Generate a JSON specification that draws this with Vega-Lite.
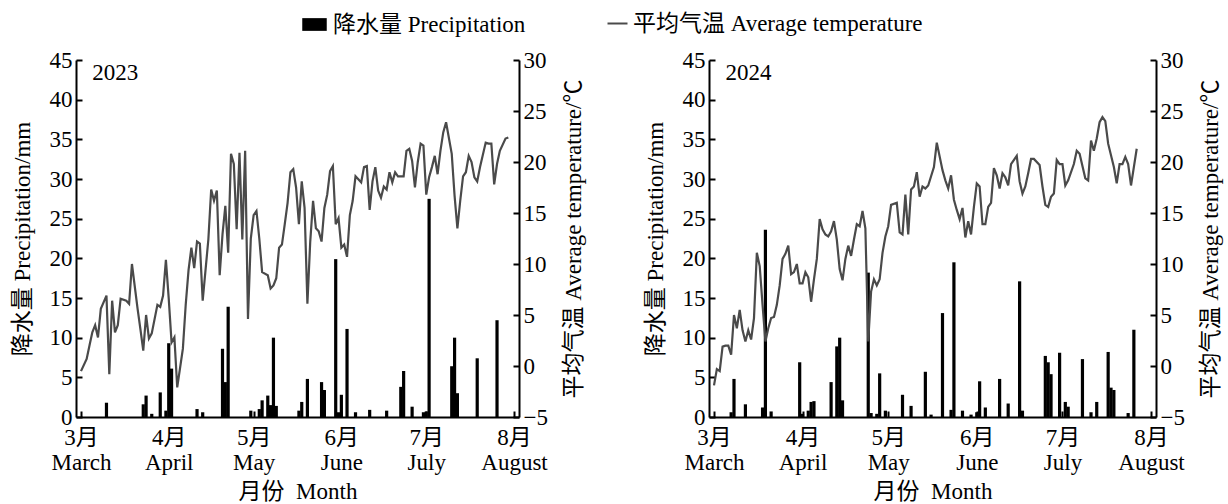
{
  "$schema": "https://vega.github.io/schema/vega-lite/v6.json",
  "background": "white",
  "padding": {"left": 11, "top": 12, "right": 3, "bottom": 3},
  "spacing": 58,
  "config": {
    "font": "Liberation Serif",
    "view": {"stroke": null},
    "axis": {
      "grid": false,
      "domainColor": "black",
      "domainWidth": 2,
      "tickColor": "black",
      "tickWidth": 2,
      "tickSize": -6,
      "labelPadding": 10,
      "labelFont": "Liberation Serif, Noto Sans CJK SC",
      "labelFontSize": 23,
      "labelColor": "black",
      "titleFont": "Liberation Serif, Noto Sans CJK SC",
      "titleFontSize": 23,
      "titleFontWeight": "normal",
      "titleColor": "black"
    },
    "legend": {
      "labelFont": "Liberation Serif, Noto Sans CJK SC",
      "labelFontSize": 23,
      "labelColor": "black",
      "labelLimit": 0,
      "title": null,
      "orient": "none",
      "direction": "horizontal"
    }
  },
  "datasets": {
    "p2023": [
      {"date": "2023-03-10", "precip": 1.8},
      {"date": "2023-03-23", "precip": 1.6},
      {"date": "2023-03-24", "precip": 2.7},
      {"date": "2023-03-26", "precip": 0.4},
      {"date": "2023-03-29", "precip": 3.1},
      {"date": "2023-03-31", "precip": 0.8},
      {"date": "2023-04-01", "precip": 9.3},
      {"date": "2023-04-02", "precip": 6.1},
      {"date": "2023-04-11", "precip": 1.0},
      {"date": "2023-04-13", "precip": 0.6},
      {"date": "2023-04-20", "precip": 8.6},
      {"date": "2023-04-21", "precip": 4.4},
      {"date": "2023-04-22", "precip": 13.9},
      {"date": "2023-04-30", "precip": 0.8},
      {"date": "2023-05-03", "precip": 1.0},
      {"date": "2023-05-04", "precip": 2.1},
      {"date": "2023-05-06", "precip": 2.7},
      {"date": "2023-05-07", "precip": 1.5},
      {"date": "2023-05-08", "precip": 10.0},
      {"date": "2023-05-09", "precip": 1.4},
      {"date": "2023-05-17", "precip": 0.8},
      {"date": "2023-05-18", "precip": 1.9},
      {"date": "2023-05-20", "precip": 4.8},
      {"date": "2023-05-25", "precip": 4.4},
      {"date": "2023-05-26", "precip": 3.4},
      {"date": "2023-05-30", "precip": 19.9},
      {"date": "2023-05-31", "precip": 0.6},
      {"date": "2023-06-01", "precip": 2.8},
      {"date": "2023-06-03", "precip": 11.1},
      {"date": "2023-06-06", "precip": 0.6},
      {"date": "2023-06-11", "precip": 0.9},
      {"date": "2023-06-17", "precip": 0.8},
      {"date": "2023-06-22", "precip": 3.8},
      {"date": "2023-06-23", "precip": 5.8},
      {"date": "2023-06-26", "precip": 1.3},
      {"date": "2023-06-30", "precip": 0.6},
      {"date": "2023-07-01", "precip": 0.7},
      {"date": "2023-07-02", "precip": 27.5},
      {"date": "2023-07-10", "precip": 6.4},
      {"date": "2023-07-11", "precip": 10.0},
      {"date": "2023-07-12", "precip": 3.0},
      {"date": "2023-07-19", "precip": 7.4},
      {"date": "2023-07-26", "precip": 12.2}
    ],
    "t2023": [
      {"date": "2023-03-01", "temp": -0.5},
      {"date": "2023-03-03", "temp": 0.7},
      {"date": "2023-03-04", "temp": 2.0},
      {"date": "2023-03-05", "temp": 3.3},
      {"date": "2023-03-06", "temp": 4.0},
      {"date": "2023-03-07", "temp": 2.8},
      {"date": "2023-03-08", "temp": 5.6},
      {"date": "2023-03-10", "temp": 6.9},
      {"date": "2023-03-11", "temp": -0.8},
      {"date": "2023-03-12", "temp": 6.4},
      {"date": "2023-03-13", "temp": 3.3},
      {"date": "2023-03-14", "temp": 4.0},
      {"date": "2023-03-15", "temp": 6.6},
      {"date": "2023-03-17", "temp": 6.4},
      {"date": "2023-03-18", "temp": 6.1},
      {"date": "2023-03-19", "temp": 10.0},
      {"date": "2023-03-21", "temp": 5.6},
      {"date": "2023-03-22", "temp": 3.6},
      {"date": "2023-03-23", "temp": 1.5},
      {"date": "2023-03-24", "temp": 5.0},
      {"date": "2023-03-25", "temp": 2.7},
      {"date": "2023-03-26", "temp": 3.2},
      {"date": "2023-03-28", "temp": 6.0},
      {"date": "2023-03-29", "temp": 5.8},
      {"date": "2023-03-30", "temp": 6.9},
      {"date": "2023-03-31", "temp": 10.4},
      {"date": "2023-04-01", "temp": 6.6},
      {"date": "2023-04-02", "temp": 2.3},
      {"date": "2023-04-03", "temp": 2.8},
      {"date": "2023-04-04", "temp": -2.1},
      {"date": "2023-04-06", "temp": 1.7},
      {"date": "2023-04-07", "temp": 6.0},
      {"date": "2023-04-08", "temp": 9.4},
      {"date": "2023-04-09", "temp": 11.6},
      {"date": "2023-04-10", "temp": 9.6},
      {"date": "2023-04-11", "temp": 12.2},
      {"date": "2023-04-12", "temp": 12.0},
      {"date": "2023-04-13", "temp": 6.4},
      {"date": "2023-04-15", "temp": 12.4},
      {"date": "2023-04-16", "temp": 17.3},
      {"date": "2023-04-17", "temp": 16.2},
      {"date": "2023-04-18", "temp": 17.2},
      {"date": "2023-04-19", "temp": 8.9},
      {"date": "2023-04-20", "temp": 12.9},
      {"date": "2023-04-21", "temp": 15.7},
      {"date": "2023-04-22", "temp": 11.1},
      {"date": "2023-04-23", "temp": 20.8},
      {"date": "2023-04-24", "temp": 19.8},
      {"date": "2023-04-25", "temp": 13.4},
      {"date": "2023-04-26", "temp": 20.9},
      {"date": "2023-04-27", "temp": 12.4},
      {"date": "2023-04-28", "temp": 21.1},
      {"date": "2023-04-29", "temp": 4.6},
      {"date": "2023-04-30", "temp": 12.5},
      {"date": "2023-05-01", "temp": 14.8},
      {"date": "2023-05-02", "temp": 15.2},
      {"date": "2023-05-03", "temp": 12.5},
      {"date": "2023-05-04", "temp": 9.2},
      {"date": "2023-05-06", "temp": 8.9},
      {"date": "2023-05-07", "temp": 7.6},
      {"date": "2023-05-08", "temp": 7.9},
      {"date": "2023-05-09", "temp": 8.6},
      {"date": "2023-05-10", "temp": 11.6},
      {"date": "2023-05-11", "temp": 11.9},
      {"date": "2023-05-12", "temp": 13.9},
      {"date": "2023-05-13", "temp": 16.0},
      {"date": "2023-05-14", "temp": 19.0},
      {"date": "2023-05-15", "temp": 19.3},
      {"date": "2023-05-16", "temp": 17.5},
      {"date": "2023-05-17", "temp": 13.9},
      {"date": "2023-05-18", "temp": 18.1},
      {"date": "2023-05-19", "temp": 15.5},
      {"date": "2023-05-20", "temp": 6.1},
      {"date": "2023-05-21", "temp": 12.2},
      {"date": "2023-05-22", "temp": 16.2},
      {"date": "2023-05-23", "temp": 13.5},
      {"date": "2023-05-24", "temp": 13.2},
      {"date": "2023-05-25", "temp": 12.2},
      {"date": "2023-05-26", "temp": 15.5},
      {"date": "2023-05-27", "temp": 16.8},
      {"date": "2023-05-28", "temp": 19.1},
      {"date": "2023-05-29", "temp": 19.6},
      {"date": "2023-05-30", "temp": 13.9},
      {"date": "2023-05-31", "temp": 14.5},
      {"date": "2023-06-01", "temp": 11.6},
      {"date": "2023-06-02", "temp": 11.9},
      {"date": "2023-06-03", "temp": 10.7},
      {"date": "2023-06-04", "temp": 14.8},
      {"date": "2023-06-05", "temp": 16.2},
      {"date": "2023-06-06", "temp": 18.6},
      {"date": "2023-06-07", "temp": 18.3},
      {"date": "2023-06-08", "temp": 18.0},
      {"date": "2023-06-09", "temp": 19.5},
      {"date": "2023-06-10", "temp": 19.6},
      {"date": "2023-06-11", "temp": 15.3},
      {"date": "2023-06-12", "temp": 18.1},
      {"date": "2023-06-13", "temp": 19.5},
      {"date": "2023-06-14", "temp": 17.2},
      {"date": "2023-06-15", "temp": 16.5},
      {"date": "2023-06-16", "temp": 17.6},
      {"date": "2023-06-17", "temp": 17.3},
      {"date": "2023-06-18", "temp": 19.0},
      {"date": "2023-06-19", "temp": 18.0},
      {"date": "2023-06-20", "temp": 19.0},
      {"date": "2023-06-21", "temp": 18.6},
      {"date": "2023-06-23", "temp": 18.6},
      {"date": "2023-06-24", "temp": 21.1},
      {"date": "2023-06-25", "temp": 21.3},
      {"date": "2023-06-26", "temp": 20.1},
      {"date": "2023-06-27", "temp": 17.5},
      {"date": "2023-06-28", "temp": 20.0},
      {"date": "2023-06-29", "temp": 21.8},
      {"date": "2023-06-30", "temp": 21.6},
      {"date": "2023-07-01", "temp": 16.8},
      {"date": "2023-07-02", "temp": 18.5},
      {"date": "2023-07-03", "temp": 19.5},
      {"date": "2023-07-04", "temp": 20.6},
      {"date": "2023-07-05", "temp": 18.8},
      {"date": "2023-07-06", "temp": 21.1},
      {"date": "2023-07-07", "temp": 22.9},
      {"date": "2023-07-08", "temp": 23.9},
      {"date": "2023-07-10", "temp": 20.8},
      {"date": "2023-07-11", "temp": 16.7},
      {"date": "2023-07-12", "temp": 13.5},
      {"date": "2023-07-13", "temp": 16.2},
      {"date": "2023-07-14", "temp": 18.6},
      {"date": "2023-07-15", "temp": 19.0},
      {"date": "2023-07-16", "temp": 20.6},
      {"date": "2023-07-17", "temp": 20.0},
      {"date": "2023-07-18", "temp": 18.5},
      {"date": "2023-07-19", "temp": 18.1},
      {"date": "2023-07-20", "temp": 19.5},
      {"date": "2023-07-22", "temp": 21.9},
      {"date": "2023-07-23", "temp": 21.8},
      {"date": "2023-07-24", "temp": 21.8},
      {"date": "2023-07-25", "temp": 17.8},
      {"date": "2023-07-26", "temp": 19.8},
      {"date": "2023-07-27", "temp": 21.1},
      {"date": "2023-07-29", "temp": 22.3},
      {"date": "2023-07-30", "temp": 22.4}
    ],
    "p2024": [
      {"date": "2024-03-07", "precip": 0.6},
      {"date": "2024-03-08", "precip": 4.8},
      {"date": "2024-03-12", "precip": 1.6},
      {"date": "2024-03-18", "precip": 1.2},
      {"date": "2024-03-19", "precip": 23.6},
      {"date": "2024-03-21", "precip": 0.7},
      {"date": "2024-03-31", "precip": 6.9},
      {"date": "2024-04-01", "precip": 0.4},
      {"date": "2024-04-03", "precip": 0.8},
      {"date": "2024-04-04", "precip": 1.9},
      {"date": "2024-04-05", "precip": 2.0},
      {"date": "2024-04-11", "precip": 4.4},
      {"date": "2024-04-13", "precip": 8.9},
      {"date": "2024-04-14", "precip": 10.0},
      {"date": "2024-04-15", "precip": 2.1},
      {"date": "2024-04-24", "precip": 18.2},
      {"date": "2024-04-25", "precip": 0.5},
      {"date": "2024-04-27", "precip": 0.4},
      {"date": "2024-04-28", "precip": 5.5},
      {"date": "2024-04-30", "precip": 0.8},
      {"date": "2024-05-06", "precip": 2.8},
      {"date": "2024-05-09", "precip": 1.4},
      {"date": "2024-05-14", "precip": 5.7},
      {"date": "2024-05-16", "precip": 0.3},
      {"date": "2024-05-20", "precip": 13.1},
      {"date": "2024-05-23", "precip": 0.9},
      {"date": "2024-05-24", "precip": 19.5},
      {"date": "2024-05-27", "precip": 0.8},
      {"date": "2024-05-30", "precip": 0.3},
      {"date": "2024-06-01", "precip": 0.6},
      {"date": "2024-06-02", "precip": 4.5},
      {"date": "2024-06-04", "precip": 1.2},
      {"date": "2024-06-09", "precip": 4.8},
      {"date": "2024-06-12", "precip": 1.7},
      {"date": "2024-06-16", "precip": 17.1},
      {"date": "2024-06-17", "precip": 0.8},
      {"date": "2024-06-25", "precip": 7.7},
      {"date": "2024-06-26", "precip": 6.9},
      {"date": "2024-06-27", "precip": 5.4},
      {"date": "2024-06-30", "precip": 8.1},
      {"date": "2024-07-02", "precip": 1.9},
      {"date": "2024-07-03", "precip": 1.3},
      {"date": "2024-07-08", "precip": 7.3},
      {"date": "2024-07-11", "precip": 0.6},
      {"date": "2024-07-13", "precip": 1.9},
      {"date": "2024-07-17", "precip": 8.2},
      {"date": "2024-07-18", "precip": 3.7},
      {"date": "2024-07-19", "precip": 3.4},
      {"date": "2024-07-24", "precip": 0.5},
      {"date": "2024-07-26", "precip": 11.0}
    ],
    "t2024": [
      {"date": "2024-03-01", "temp": -1.9},
      {"date": "2024-03-02", "temp": -0.3},
      {"date": "2024-03-03", "temp": -0.5},
      {"date": "2024-03-04", "temp": 1.9},
      {"date": "2024-03-05", "temp": 2.0},
      {"date": "2024-03-06", "temp": 2.0},
      {"date": "2024-03-07", "temp": 1.1},
      {"date": "2024-03-08", "temp": 5.0},
      {"date": "2024-03-09", "temp": 3.7},
      {"date": "2024-03-10", "temp": 5.5},
      {"date": "2024-03-11", "temp": 3.5},
      {"date": "2024-03-12", "temp": 2.4},
      {"date": "2024-03-13", "temp": 3.5},
      {"date": "2024-03-14", "temp": 2.6},
      {"date": "2024-03-15", "temp": 4.7},
      {"date": "2024-03-16", "temp": 11.1},
      {"date": "2024-03-17", "temp": 9.8},
      {"date": "2024-03-18", "temp": 6.0},
      {"date": "2024-03-19", "temp": 2.4},
      {"date": "2024-03-20", "temp": 3.7},
      {"date": "2024-03-21", "temp": 4.7},
      {"date": "2024-03-22", "temp": 4.8},
      {"date": "2024-03-23", "temp": 6.0},
      {"date": "2024-03-24", "temp": 7.9},
      {"date": "2024-03-25", "temp": 10.5},
      {"date": "2024-03-26", "temp": 11.0},
      {"date": "2024-03-27", "temp": 11.8},
      {"date": "2024-03-28", "temp": 9.0},
      {"date": "2024-03-29", "temp": 9.2},
      {"date": "2024-03-30", "temp": 10.0},
      {"date": "2024-03-31", "temp": 8.1},
      {"date": "2024-04-01", "temp": 8.1},
      {"date": "2024-04-02", "temp": 9.2},
      {"date": "2024-04-03", "temp": 8.7},
      {"date": "2024-04-04", "temp": 6.3},
      {"date": "2024-04-05", "temp": 8.5},
      {"date": "2024-04-06", "temp": 10.5},
      {"date": "2024-04-07", "temp": 14.4},
      {"date": "2024-04-08", "temp": 13.4},
      {"date": "2024-04-09", "temp": 12.9},
      {"date": "2024-04-10", "temp": 12.7},
      {"date": "2024-04-11", "temp": 13.2},
      {"date": "2024-04-12", "temp": 14.2},
      {"date": "2024-04-13", "temp": 12.4},
      {"date": "2024-04-14", "temp": 9.5},
      {"date": "2024-04-15", "temp": 8.4},
      {"date": "2024-04-16", "temp": 10.5},
      {"date": "2024-04-17", "temp": 11.8},
      {"date": "2024-04-18", "temp": 10.8},
      {"date": "2024-04-19", "temp": 12.4},
      {"date": "2024-04-20", "temp": 13.9},
      {"date": "2024-04-21", "temp": 13.7},
      {"date": "2024-04-22", "temp": 15.2},
      {"date": "2024-04-23", "temp": 13.5},
      {"date": "2024-04-24", "temp": 2.4},
      {"date": "2024-04-25", "temp": 7.3},
      {"date": "2024-04-26", "temp": 8.5},
      {"date": "2024-04-27", "temp": 7.9},
      {"date": "2024-04-28", "temp": 8.5},
      {"date": "2024-04-29", "temp": 11.1},
      {"date": "2024-04-30", "temp": 12.7},
      {"date": "2024-05-01", "temp": 13.7},
      {"date": "2024-05-02", "temp": 15.8},
      {"date": "2024-05-04", "temp": 16.0},
      {"date": "2024-05-05", "temp": 13.1},
      {"date": "2024-05-06", "temp": 12.9},
      {"date": "2024-05-07", "temp": 16.8},
      {"date": "2024-05-08", "temp": 12.9},
      {"date": "2024-05-09", "temp": 17.3},
      {"date": "2024-05-10", "temp": 17.6},
      {"date": "2024-05-11", "temp": 19.0},
      {"date": "2024-05-12", "temp": 16.6},
      {"date": "2024-05-13", "temp": 17.6},
      {"date": "2024-05-14", "temp": 17.4},
      {"date": "2024-05-15", "temp": 17.7},
      {"date": "2024-05-17", "temp": 19.5},
      {"date": "2024-05-18", "temp": 21.9},
      {"date": "2024-05-20", "temp": 19.2},
      {"date": "2024-05-21", "temp": 18.2},
      {"date": "2024-05-22", "temp": 17.4},
      {"date": "2024-05-23", "temp": 18.7},
      {"date": "2024-05-24", "temp": 16.3},
      {"date": "2024-05-25", "temp": 15.3},
      {"date": "2024-05-26", "temp": 14.4},
      {"date": "2024-05-27", "temp": 15.5},
      {"date": "2024-05-28", "temp": 12.6},
      {"date": "2024-05-29", "temp": 14.2},
      {"date": "2024-05-30", "temp": 12.9},
      {"date": "2024-05-31", "temp": 15.6},
      {"date": "2024-06-01", "temp": 17.9},
      {"date": "2024-06-02", "temp": 17.6},
      {"date": "2024-06-03", "temp": 13.9},
      {"date": "2024-06-04", "temp": 13.9},
      {"date": "2024-06-05", "temp": 15.6},
      {"date": "2024-06-06", "temp": 16.0},
      {"date": "2024-06-07", "temp": 19.4},
      {"date": "2024-06-08", "temp": 18.7},
      {"date": "2024-06-09", "temp": 17.4},
      {"date": "2024-06-10", "temp": 18.9},
      {"date": "2024-06-11", "temp": 18.5},
      {"date": "2024-06-12", "temp": 17.7},
      {"date": "2024-06-13", "temp": 19.8},
      {"date": "2024-06-15", "temp": 20.6},
      {"date": "2024-06-16", "temp": 18.1},
      {"date": "2024-06-17", "temp": 16.9},
      {"date": "2024-06-18", "temp": 17.6},
      {"date": "2024-06-19", "temp": 18.9},
      {"date": "2024-06-20", "temp": 20.3},
      {"date": "2024-06-21", "temp": 20.3},
      {"date": "2024-06-23", "temp": 19.7},
      {"date": "2024-06-24", "temp": 17.6},
      {"date": "2024-06-25", "temp": 15.8},
      {"date": "2024-06-26", "temp": 15.6},
      {"date": "2024-06-27", "temp": 16.6},
      {"date": "2024-06-28", "temp": 16.9},
      {"date": "2024-06-29", "temp": 20.2},
      {"date": "2024-06-30", "temp": 19.8},
      {"date": "2024-07-01", "temp": 19.8},
      {"date": "2024-07-02", "temp": 17.7},
      {"date": "2024-07-03", "temp": 18.2},
      {"date": "2024-07-05", "temp": 19.8},
      {"date": "2024-07-06", "temp": 21.1},
      {"date": "2024-07-07", "temp": 20.8},
      {"date": "2024-07-09", "temp": 18.4},
      {"date": "2024-07-10", "temp": 18.2},
      {"date": "2024-07-11", "temp": 22.1},
      {"date": "2024-07-12", "temp": 21.1},
      {"date": "2024-07-13", "temp": 22.3},
      {"date": "2024-07-14", "temp": 23.9},
      {"date": "2024-07-15", "temp": 24.4},
      {"date": "2024-07-16", "temp": 24.0},
      {"date": "2024-07-17", "temp": 21.8},
      {"date": "2024-07-19", "temp": 19.5},
      {"date": "2024-07-20", "temp": 17.9},
      {"date": "2024-07-21", "temp": 19.8},
      {"date": "2024-07-22", "temp": 19.8},
      {"date": "2024-07-23", "temp": 20.5},
      {"date": "2024-07-24", "temp": 19.8},
      {"date": "2024-07-25", "temp": 17.7},
      {"date": "2024-07-26", "temp": 19.5},
      {"date": "2024-07-27", "temp": 21.3}
    ]
  },
  "hconcat": [
    {
      "width": 443,
      "height": 357,
      "resolve": {"scale": {"y": "independent"}},
      "layer": [
        {
          "data": {"name": "p2023"},
          "mark": {"type": "bar", "width": 3.2},
          "encoding": {
            "x": {
              "field": "date", "type": "temporal",
              "scale": {"type": "utc", "domain": [{"year": 2023, "month": 3, "date": 1, "utc": true}, {"year": 2023, "month": 8, "date": 1, "utc": true}]},
              "axis": {
                "values": [
                  {"year": 2023, "month": 3, "date": 1, "utc": true},
                  {"year": 2023, "month": 4, "date": 1, "utc": true},
                  {"year": 2023, "month": 5, "date": 1, "utc": true},
                  {"year": 2023, "month": 6, "date": 1, "utc": true},
                  {"year": 2023, "month": 7, "date": 1, "utc": true},
                  {"year": 2023, "month": 8, "date": 1, "utc": true}
                ],
                "labelExpr": "[(utcmonth(datum.value) + 1) + '月', utcFormat(datum.value, '%B')]",
                "labelLineHeight": 25,
                "labelPadding": 15,
                "labelFlush": false,
                "labelOverlap": false,
                "labelBound": false,
                "title": "月份\u00a0 Month",
                "titlePadding": 6
              }
            },
            "y": {
              "field": "precip", "type": "quantitative",
              "scale": {"domain": [0, 45], "nice": false, "zero": true},
              "axis": {"orient": "left", "values": [0, 5, 10, 15, 20, 25, 30, 35, 40, 45], "title": "降水量 Precipitation/mm", "titlePadding": 15}
            },
            "color": {
              "datum": "降水量 Precipitation",
              "scale": {"range": ["black"]},
              "legend": {"symbolType": "M-1,-0.52H1V0.52H-1Z", "symbolSize": 600, "symbolStrokeWidth": 0, "labelOffset": 6, "legendX": 226, "legendY": -48}
            }
          }
        },
        {
          "data": {"name": "t2023"},
          "mark": {"type": "line", "strokeWidth": 2.2, "interpolate": "linear"},
          "encoding": {
            "x": {"field": "date", "type": "temporal"},
            "y": {
              "field": "temp", "type": "quantitative",
              "scale": {"domain": [-5, 30], "nice": false, "zero": false},
              "axis": {"orient": "right", "values": [-5, 0, 5, 10, 15, 20, 25, 30], "labelExpr": "datum.value < 0 ? '−' + abs(datum.value) : datum.label", "title": "平均气温 Average temperature/℃", "titleAngle": 270, "titleBaseline": "top", "titlePadding": 15}
            },
            "stroke": {
              "datum": "平均气温 Average temperature",
              "scale": {"range": ["#4a4a4a"]},
              "legend": {"symbolType": "stroke", "symbolSize": 400, "symbolStrokeWidth": 2, "symbolStrokeColor": "black", "labelOffset": 4, "legendX": 530, "legendY": -48}
            }
          }
        },
        {
          "data": {"values": [{"label": "2023"}]},
          "mark": {"type": "text", "align": "left", "baseline": "middle", "fontSize": 23, "font": "Liberation Serif", "color": "black"},
          "encoding": {
            "text": {"field": "label"},
            "x": {"datum": {"year": 2023, "month": 3, "date": 5, "utc": true}, "type": "temporal"},
            "y": {"datum": 43.3, "type": "quantitative", "scale": {"domain": [0, 45], "nice": false}, "axis": null}
          }
        }
      ]
    },
    {
      "width": 447,
      "height": 357,
      "resolve": {"scale": {"y": "independent"}},
      "layer": [
        {
          "data": {"name": "p2024"},
          "mark": {"type": "bar", "width": 3.2},
          "encoding": {
            "x": {
              "field": "date", "type": "temporal",
              "scale": {"type": "utc", "domain": [{"year": 2024, "month": 3, "date": 1, "utc": true}, {"year": 2024, "month": 8, "date": 1, "utc": true}]},
              "axis": {
                "values": [
                  {"year": 2024, "month": 3, "date": 1, "utc": true},
                  {"year": 2024, "month": 4, "date": 1, "utc": true},
                  {"year": 2024, "month": 5, "date": 1, "utc": true},
                  {"year": 2024, "month": 6, "date": 1, "utc": true},
                  {"year": 2024, "month": 7, "date": 1, "utc": true},
                  {"year": 2024, "month": 8, "date": 1, "utc": true}
                ],
                "labelExpr": "[(utcmonth(datum.value) + 1) + '月', utcFormat(datum.value, '%B')]",
                "labelLineHeight": 25,
                "labelPadding": 15,
                "labelFlush": false,
                "labelOverlap": false,
                "labelBound": false,
                "title": "月份\u00a0 Month",
                "titlePadding": 6
              }
            },
            "y": {
              "field": "precip", "type": "quantitative",
              "scale": {"domain": [0, 45], "nice": false, "zero": true},
              "axis": {"orient": "left", "values": [0, 5, 10, 15, 20, 25, 30, 35, 40, 45], "title": "降水量 Precipitation/mm", "titlePadding": 15}
            },
            "color": {"datum": "降水量 Precipitation"}
          }
        },
        {
          "data": {"name": "t2024"},
          "mark": {"type": "line", "strokeWidth": 2.2, "interpolate": "linear"},
          "encoding": {
            "x": {"field": "date", "type": "temporal"},
            "y": {
              "field": "temp", "type": "quantitative",
              "scale": {"domain": [-5, 30], "nice": false, "zero": false},
              "axis": {"orient": "right", "values": [-5, 0, 5, 10, 15, 20, 25, 30], "labelExpr": "datum.value < 0 ? '−' + abs(datum.value) : datum.label", "title": "平均气温 Average temperature/℃", "titleAngle": 270, "titleBaseline": "top", "titlePadding": 15}
            },
            "stroke": {"datum": "平均气温 Average temperature"}
          }
        },
        {
          "data": {"values": [{"label": "2024"}]},
          "mark": {"type": "text", "align": "left", "baseline": "middle", "fontSize": 23, "font": "Liberation Serif", "color": "black"},
          "encoding": {
            "text": {"field": "label"},
            "x": {"datum": {"year": 2024, "month": 3, "date": 5, "utc": true}, "type": "temporal"},
            "y": {"datum": 43.3, "type": "quantitative", "scale": {"domain": [0, 45], "nice": false}, "axis": null}
          }
        }
      ]
    }
  ]
}
